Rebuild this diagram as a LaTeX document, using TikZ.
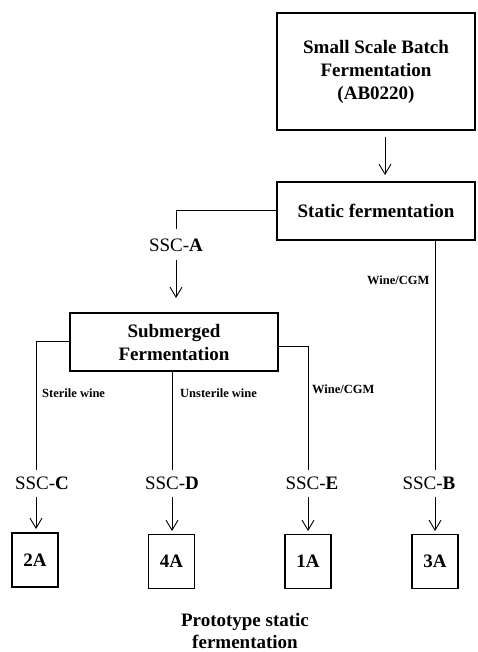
\documentclass[tikz,border=0pt]{standalone}
\usepackage{fontspec}
\setmainfont{Liberation Serif}
\usetikzlibrary{arrows.meta}
\begin{document}
\begin{tikzpicture}[x=1pt,y=-1pt,
  bigbox/.style={draw,line width=2.8pt,minimum width=#1,inner sep=0pt,align=center,font=\fontsize{19}{23}\selectfont\bfseries},
  smallbox/.style={draw,line width=1.1pt,minimum width=46pt,minimum height=54pt,inner sep=0pt,font=\fontsize{19}{23}\selectfont\bfseries},
  ssc/.style={inner sep=1pt,font=\fontsize{19}{23}\selectfont},
  lab/.style={inner sep=0pt,anchor=west,font=\fontsize{12.5}{15}\selectfont\bfseries},
  conn/.style={line width=0.9pt},
  arr/.style={line width=0.9pt,-{Straight Barb[length=10pt,width=12pt,line width=0.9pt]}}]
\useasboundingbox (0,0) rectangle (478,652);
% boxes
\node[bigbox=198pt,minimum height=117pt] (top) at (376,71.5) {Small Scale Batch\\Fermentation\\(AB0220)};
\node[bigbox=198pt,minimum height=58pt] (static) at (376,211) {Static fermentation};
\node[bigbox=208pt,minimum height=58pt] (sub) at (174,342) {Submerged\\Fermentation};
\node[ssc] (sscA) at (176,245) {SSC-\textbf{A}};
\node[ssc] (sscC) at (42,483) {SSC-\textbf{C}};
\node[ssc] (sscD) at (172,483) {SSC-\textbf{D}};
\node[ssc] (sscE) at (312,483) {SSC-\textbf{E}};
\node[ssc] (sscB) at (429,483) {SSC-\textbf{B}};
\node[smallbox] (b2A) at (35,560) {2A};
\node[smallbox] (b4A) at (171.5,561.5) {4A};
\node[smallbox] (b1A) at (308,561.5) {1A};
\node[smallbox] (b3A) at (435,561.5) {3A};
\node[align=center,inner sep=0pt,font=\fontsize{19}{22}\selectfont\bfseries] (cap) at (245,631) {Prototype static\\fermentation};
% labels
\node[lab] (l1) at (42,393) {Sterile wine};
\node[lab] (l2) at (180,393) {Unsterile wine};
\node[lab] (l3) at (312,389) {Wine/CGM};
\node[lab] (l4) at (367,280) {Wine/CGM};
% coordinates
\coordinate (t1) at (385,137);
\coordinate (t2) at (385,175);
\coordinate (a1) at (176,229);
\coordinate (a2) at (176,260);
\coordinate (a3) at (176,298);
\coordinate (c1) at (36,470);
\coordinate (d1) at (172,470);
\coordinate (e1) at (308,470);
\coordinate (bB) at (435,470);
\coordinate (c2) at (36,497);
\coordinate (d2) at (172,497);
\coordinate (e2) at (308,497);
\coordinate (f2) at (435,497);
\coordinate (c3) at (36,529);
\coordinate (d3) at (172,531);
\coordinate (e3) at (308,531);
\coordinate (f3) at (435,531);
% connectors
\draw[arr] (t1) -- (t2);
\draw[conn] (static.west |- 0,210) -| (a1);
\draw[arr] (a2) -- (a3);
\draw[conn] (sub.west |- 0,341) -| (c1);
\draw[conn] (sub.south -| d1) -- (d1);
\draw[conn] (sub.east |- 0,346) -| (e1);
\draw[conn] (static.south -| bB) -- (bB);
\draw[arr] (c2) -- (c3);
\draw[arr] (d2) -- (d3);
\draw[arr] (e2) -- (e3);
\draw[arr] (f2) -- (f3);
\end{tikzpicture}
\end{document}
